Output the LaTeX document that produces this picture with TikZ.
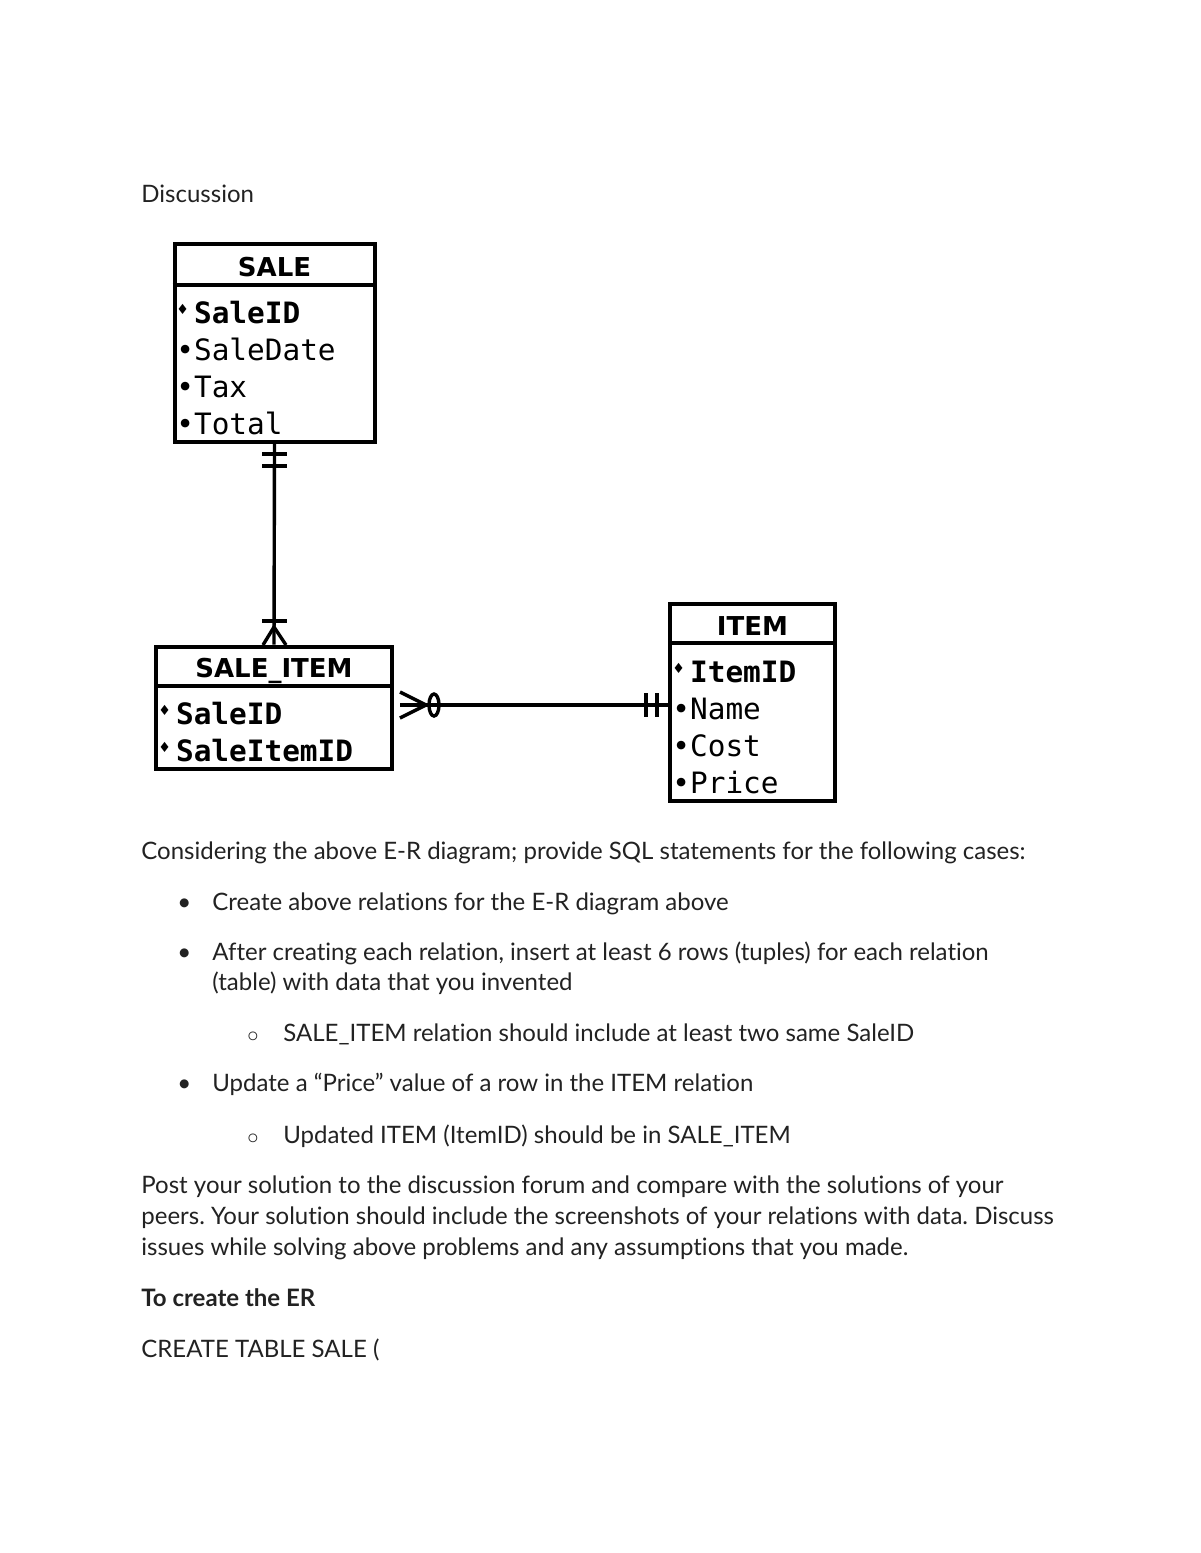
\documentclass[tikz,border=0pt]{standalone}
\usepackage{fontspec}
\setmainfont{Lato}[Ligatures=NoCommon]
\newfontfamily\erhead{DejaVu Sans}
\newfontfamily\ermono{DejaVu Sans Mono}
\newfontfamily\symfont{DejaVu Sans}
\usepackage{xcolor}
\definecolor{bodytext}{HTML}{222222}
\newcommand{\keymark}{\makebox[0.602em][l]{\raisebox{0.28em}{\symfont\fontsize{7}{7}\selectfont ♦}}}
\newcommand{\attrmark}{•}
\frenchspacing

\tikzset{
    entity/.style={draw, line width=2pt, inner sep=0pt},
    headline/.style={line width=2.4pt},
    rel/.style={line width=1.7pt},
    enttitle/.style={anchor=base, inner sep=0pt, font=\erhead\bfseries\fontsize{13}{15}\selectfont},
    attr/.style={anchor=base west, inner sep=0pt, font=\ermono\fontsize{14.7}{16}\selectfont},
    para/.style={anchor=base west, inner sep=0pt, text=bodytext, font=\fontsize{12}{14}\selectfont},
}

\begin{document}
\begin{tikzpicture}[x=0.5pt, y=-0.5pt]
    \useasboundingbox[fill=white] (0,0) rectangle (1200,1553);

    \node[para] (title) at (141,202) {Discussion};

    % Entity boxes
    \node[entity, minimum width=100pt, minimum height=99pt] (sale) at (274.5,343) {};
    \node[entity, minimum width=118pt, minimum height=61pt] (saleitem) at (274,707.5) {};
    \node[entity, minimum width=82.5pt, minimum height=98.5pt] (item) at (752.5,702.5) {};

    % Header lines and names
    \draw[headline] (sale.west |- 0,285) -- (sale.east |- 0,285);
    \draw[headline] (saleitem.west |- 0,686) -- (saleitem.east |- 0,686);
    \draw[headline] (item.west |- 0,643) -- (item.east |- 0,643);
    \node[enttitle] (saletitle) at (274.5,276) {SALE};
    \node[enttitle] (saleitemtitle) at (274,677) {SALE\_ITEM};
    \node[enttitle] (itemtitle) at (752.5,635) {ITEM};

    % Attributes of SALE
    \node[attr] (saleid) at (176,323) {\keymark\bfseries SaleID};
    \foreach \y/\name/\lbl in {360/saledate/SaleDate, 397/tax/Tax, 434/total/Total} {
        \node[attr] (\name) at (176,\y) {\attrmark\lbl};
    }

    % Attributes of SALE_ITEM
    \foreach \y/\name/\lbl in {724/sisaleid/SaleID, 761/sisaleitemid/SaleItemID} {
        \node[attr] (\name) at (158,\y) {\keymark\bfseries \lbl};
    }

    % Attributes of ITEM
    \node[attr] (itemid) at (672,682) {\keymark\bfseries ItemID};
    \foreach \y/\name/\lbl in {719/name/Name, 756/cost/Cost, 793/price/Price} {
        \node[attr] (\name) at (672,\y) {\attrmark\lbl};
    }

    % SALE to SALE_ITEM: one and only one / one or many
    \draw[rel] (sale.south) -- (saleitem.north);
    \draw[rel] (262,454) -- (287,454);
    \draw[rel] (262,466) -- (287,466);
    \draw[rel] (262,621) -- (287,621);
    \draw[rel] (263,645) -- (274,627) -- (286,645);

    % SALE_ITEM to ITEM: zero or many / one and only one
    \coordinate (crow) at (400,705);
    \draw[rel] (crow) -- (item.west |- crow);
    \draw[rel] (400,692) -- (426,705) -- (400,718);
    \draw[rel] (434,705) ellipse (5 and 11);
    \draw[rel] (646,693) -- (646,717);
    \draw[rel] (657,693) -- (657,717);

    % Text below the diagram
    \node[para] (intro) at (141,859) {Considering the above E-R diagram; provide SQL statements for the following cases:};
    \foreach \y/\name/\lbl in {910/bulleta/{Create above relations for the E-R diagram above},
                               960/bulletb/{After creating each relation, insert at least 6 rows (tuples) for each relation},
                               1091/bulletc/{Update a “Price” value of a row in the ITEM relation}} {
        \node[para] (\name) at (212,\y) {\lbl};
        \node[para] at (177,\y) {•};
    }
    \node[para] (bulletbb) at (212,990) {(table) with data that you invented};
    \foreach \y/\name/\lbl in {1041/suba/{SALE\_ITEM relation should include at least two same SaleID},
                               1143/subb/{Updated ITEM (ItemID) should be in SALE\_ITEM}} {
        \node[para] (\name) at (283,\y) {\lbl};
        \node[para, font=\symfont\fontsize{15}{15}\selectfont] at (244,\y+6) {◦};
    }
    \node[para] (posta) at (141,1193) {Post your solution to the discussion forum and compare with the solutions of your};
    \node[para] (postb) at (141,1224) {peers. Your solution should include the screenshots of your relations with data. Discuss};
    \node[para] (postc) at (141,1255) {issues while solving above problems and any assumptions that you made.};
    \node[para, font=\bfseries\fontsize{12}{14}\selectfont] (tocreate) at (141,1306) {To create the ER};
    \node[para] (create) at (141,1357) {CREATE TABLE SALE (};

\end{tikzpicture}
\end{document}
